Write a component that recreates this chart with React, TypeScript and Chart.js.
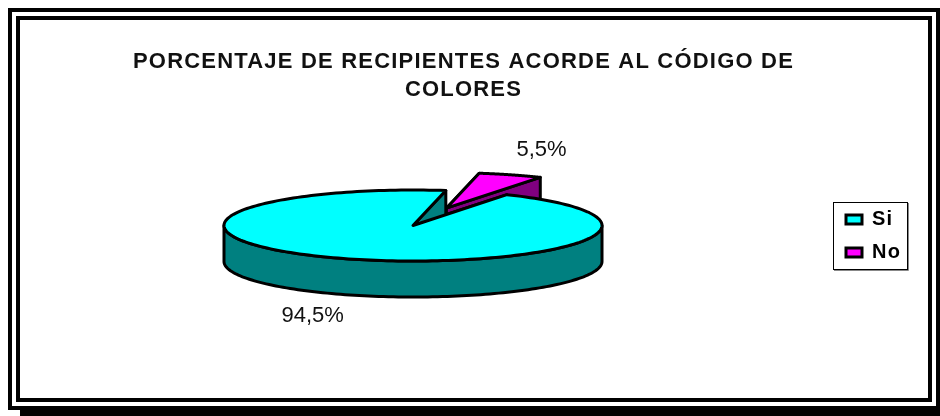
import React, { useEffect, useRef } from "react";
import { Chart, registerables } from "chart.js";

Chart.register(...registerables);

const categories = ["Si", "No"];
const percentages = [94.5, 5.5];
const titleLines = ["PORCENTAJE DE RECIPIENTES ACORDE AL CÓDIGO DE", "COLORES"];
const topColors = ["#00FFFF", "#FF00FF"];
const wallColors = ["#008080", "#800080"];

const FONT = "'Liberation Sans', Arial, sans-serif";
const CENTER_X = 413;
const CENTER_Y = 225.5;
const RADIUS = 189;
const SQUASH = 35.5 / 189;
const DEPTH = 36;
const EXPLODE = [0, 98];
const LABEL_REACH = [1.56, 1.48];
const LABEL_NUDGE_Y = [38, -9];
const LINE = 3;

const pie3d = {
  id: "pie3d",
  afterLayout(chart: any) {
    const t = chart.titleBlock;
    t.left = 20; t.right = 907; t.top = 48; t.bottom = 102;
    const l = chart.legend;
    l.left = 833; l.right = 907; l.top = 196; l.bottom = 276;
  },
  beforeDraw(chart: any) {
    const c = chart.ctx;
    c.save();
    c.fillStyle = "#000";
    c.fillRect(8, 8, 932, 402);
    c.fillRect(20, 406, 920, 10);
    c.fillStyle = "#fff";
    c.fillRect(12, 12, 924, 394);
    c.fillStyle = "#000";
    c.fillRect(16, 16, 916, 386);
    c.fillStyle = "#fff";
    c.fillRect(20, 20, 908, 378);
    c.restore();
    c.letterSpacing = "1.2px";
  },
  beforeDatasetDraw(chart: any, args: any) {
    const c = chart.ctx;
    const arcs = args.meta.data as any[];
    for (let i = arcs.length - 1; i >= 0; i--) {
      const a = arcs[i];
      const mid = (a.startAngle + a.endAngle) / 2;
      const ox = Math.cos(mid) * EXPLODE[i];
      const oy = Math.sin(mid) * EXPLODE[i];
      const r = a.outerRadius;
      const px = (th: number) => CENTER_X + (ox + r * Math.cos(th));
      const py = (th: number) => CENTER_Y + (oy + r * Math.sin(th)) * SQUASH;
      const tipX = CENTER_X + ox;
      const tipY = CENTER_Y + oy * SQUASH;
      c.save();
      c.lineWidth = LINE;
      c.lineJoin = "round";
      c.strokeStyle = "#000";
      c.fillStyle = wallColors[i];
      // radial walls, farther edge first
      for (const th of [a.startAngle, a.endAngle]) {
        c.beginPath();
        c.moveTo(tipX, tipY);
        c.lineTo(px(th), py(th));
        c.lineTo(px(th), py(th) + DEPTH);
        c.lineTo(tipX, tipY + DEPTH);
        c.closePath();
        c.fill();
        c.stroke();
      }
      // front rim, the part of the arc that faces the viewer
      const tau = Math.PI * 2;
      for (let k = -1; k <= 1; k++) {
        const s = Math.max(a.startAngle, k * tau);
        const e = Math.min(a.endAngle, k * tau + Math.PI);
        if (e <= s) continue;
        c.beginPath();
        for (let n = 0; n <= 120; n++) {
          const th = s + ((e - s) * n) / 120;
          c.lineTo(px(th), py(th));
        }
        for (let n = 120; n >= 0; n--) {
          const th = s + ((e - s) * n) / 120;
          c.lineTo(px(th), py(th) + DEPTH);
        }
        c.closePath();
        c.fill();
        c.stroke();
      }
      // top face, filled by the library's arc element
      c.save();
      c.translate(CENTER_X, CENTER_Y);
      c.scale(1, SQUASH);
      c.translate(ox - a.x, oy - a.y);
      a.draw(c);
      c.restore();
      // even outline for the squashed top face
      c.beginPath();
      c.moveTo(tipX, tipY);
      for (let n = 0; n <= 200; n++) {
        const th = a.startAngle + ((a.endAngle - a.startAngle) * n) / 200;
        c.lineTo(px(th), py(th));
      }
      c.closePath();
      c.stroke();
      c.restore();
    }
    return false;
  },
  afterDraw(chart: any) {
    const c = chart.ctx;
    c.letterSpacing = "0px";
    c.save();
    c.strokeStyle = "#000";
    c.lineWidth = 1;
    c.strokeRect(833.5, 202.5, 74, 67);
    c.strokeStyle = "#888";
    c.beginPath();
    c.moveTo(908.5, 203);
    c.lineTo(908.5, 270.5);
    c.lineTo(834, 270.5);
    c.stroke();
    const meta = chart.getDatasetMeta(0);
    c.fillStyle = "#111";
    c.font = `22px ${FONT}`;
    c.textAlign = "center";
    c.textBaseline = "middle";
    meta.data.forEach((a: any, i: number) => {
      const mid = (a.startAngle + a.endAngle) / 2;
      const reach = EXPLODE[i] + a.outerRadius * LABEL_REACH[i];
      const x = CENTER_X + Math.cos(mid) * reach;
      const y = CENTER_Y + Math.sin(mid) * reach * SQUASH + LABEL_NUDGE_Y[i];
      c.fillText(percentages[i].toFixed(1).replace(".", ",") + "%", x, y);
    });
    c.restore();
  },
};

export default function App() {
  const ref = useRef<HTMLCanvasElement>(null);
  useEffect(() => {
    const chart = new Chart(ref.current!, {
      type: "pie",
      data: {
        labels: categories,
        datasets: [
          {
            data: percentages,
            backgroundColor: topColors,
            borderWidth: 0,
            radius: RADIUS,
            clip: false,
          } as any,
        ],
      },
      options: {
        responsive: false,
        animation: false,
        rotation: 29.8,
        layout: { padding: 0 },
        plugins: {
          tooltip: { enabled: false },
          title: {
            display: true,
            text: titleLines,
            color: "#111",
            padding: 0,
            font: { family: FONT, size: 22, weight: "bold", lineHeight: 1.27 },
          },
          legend: {
            position: "right",
            labels: {
              boxWidth: 16,
              boxHeight: 9,
              padding: 13,
              color: "#111",
              font: { family: FONT, size: 20, weight: "bold" },
              generateLabels() {
                return categories.map((text, i) => ({
                  text,
                  index: i,
                  datasetIndex: 0,
                  fillStyle: topColors[i],
                  strokeStyle: "#000",
                  lineWidth: LINE,
                  hidden: false,
                }));
              },
            },
          },
        },
      } as any,
      plugins: [pie3d as any],
    });
    return () => chart.destroy();
  }, []);
  return (
    <canvas
      ref={ref}
      width={940}
      height={416}
      style={{ position: "absolute", left: 0, top: 0, display: "block" }}
    />
  );
}
